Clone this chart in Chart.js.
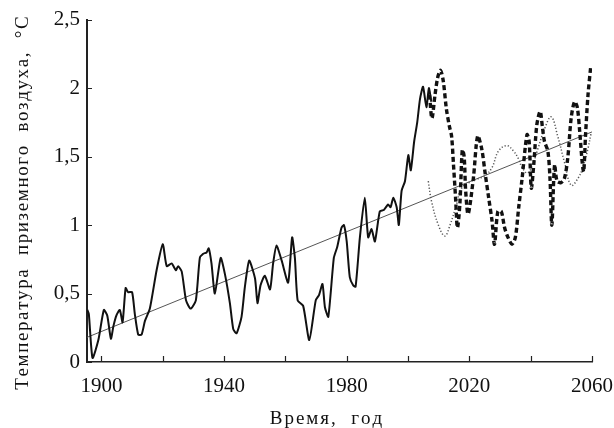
<!DOCTYPE html>
<html>
<head>
  <script src="https://cdn.jsdelivr.net/npm/chart.js"></script>
  <style>body{margin:0}</style>
</head>
<body>
  <canvas id="c" width="614" height="428"></canvas>
  <script>
    // наблюдения (сплошная линия)
    const obsYears = [1895.4, 1895.9, 1897.1, 1899.0, 1900.8, 1901.9, 1903.1, 1903.9, 1904.9, 1906.0,
      1906.9, 1907.9, 1908.7, 1910.0, 1910.9, 1912.0, 1913.1, 1914.2, 1915.8, 1918.0,
      1920.0, 1921.3, 1922.9, 1924.3, 1925.0, 1926.2, 1927.6, 1929.1, 1930.8, 1932.1,
      1933.2, 1934.3, 1935.0, 1935.9, 1937.0, 1938.9, 1940.3, 1941.9, 1943.0, 1944.1,
      1945.7, 1946.8, 1948.2, 1950.1, 1950.9, 1951.9, 1953.3, 1955.0, 1956.0, 1957.1,
      1958.8, 1960.9, 1962.2, 1963.1, 1964.0, 1965.8, 1967.8, 1969.9, 1971.0, 1972.1,
      1972.9, 1974.0, 1975.8, 1976.9, 1978.3, 1979.1, 1980.0, 1981.0, 1982.1, 1982.9,
      1984.3, 1985.9, 1987.0, 1988.1, 1989.2, 1990.8, 1992.1, 1993.5, 1994.3, 1995.2,
      1996.3, 1997.0, 1997.9, 1999.0, 2000.1, 2000.9, 2002.0, 2003.0, 2003.9, 2004.9,
      2006.0, 2006.8, 2007.6];
    const obsValues = [0.38, 0.35, 0.03, 0.16, 0.38, 0.34, 0.17, 0.26, 0.34, 0.38,
      0.29, 0.54, 0.51, 0.51, 0.35, 0.20, 0.20, 0.30, 0.39, 0.67,
      0.86, 0.70, 0.72, 0.67, 0.70, 0.66, 0.45, 0.39, 0.45, 0.76,
      0.79, 0.80, 0.83, 0.72, 0.50, 0.76, 0.64, 0.43, 0.24, 0.21,
      0.33, 0.55, 0.74, 0.61, 0.43, 0.56, 0.63, 0.53, 0.72, 0.85,
      0.74, 0.58, 0.91, 0.76, 0.45, 0.41, 0.16, 0.45, 0.49, 0.57,
      0.40, 0.33, 0.76, 0.84, 0.98, 1.00, 0.88, 0.62, 0.56, 0.55,
      0.91, 1.20, 0.91, 0.97, 0.88, 1.10, 1.11, 1.15, 1.13, 1.20,
      1.13, 1.00, 1.25, 1.32, 1.51, 1.40, 1.61, 1.75, 1.92, 2.01,
      1.86, 2.00, 1.90];

    // прогноз (пунктир)
    const fcYears = [2007.0, 2007.8, 2008.8, 2009.7, 2010.6, 2011.5, 2012.5, 2013.5, 2014.2, 2014.8,
      2015.5, 2016.1, 2016.9, 2017.7, 2018.3, 2018.8, 2019.6, 2021.3, 2022.7, 2024.0,
      2025.2, 2026.3, 2027.4, 2028.2, 2029.3, 2030.4, 2031.5, 2032.6, 2033.9, 2035.0,
      2036.1, 2037.2, 2038.8, 2039.5, 2040.2, 2041.0, 2042.0, 2043.1, 2043.8, 2044.5,
      2045.6, 2046.3, 2046.9, 2047.8, 2048.6, 2049.9, 2051.0, 2052.1, 2053.2, 2054.3,
      2055.2, 2056.0, 2056.8, 2057.3, 2057.9, 2058.7, 2059.6];
    const fcValues = [1.95, 1.78, 1.95, 2.08, 2.13, 2.05, 1.85, 1.72, 1.65, 1.45,
      1.20, 0.98, 1.15, 1.55, 1.50, 1.25, 1.08, 1.34, 1.65, 1.56,
      1.37, 1.20, 1.03, 0.86, 1.10, 1.10, 0.98, 0.91, 0.86, 0.91,
      1.13, 1.34, 1.66, 1.61, 1.27, 1.44, 1.73, 1.83, 1.72, 1.61,
      1.54, 1.34, 1.00, 1.44, 1.32, 1.31, 1.34, 1.49, 1.78, 1.90,
      1.86, 1.68, 1.46, 1.39, 1.66, 1.95, 2.16];

    // циклическая составляющая (точки)
    const cycYears = [2006.6, 2007.7, 2009.9, 2012.0, 2013.7, 2015.8, 2017.5, 2020.7, 2023.0, 2025.1,
      2027.4, 2029.5, 2032.2, 2034.4, 2036.1, 2037.2, 2039.0, 2040.8, 2042.4, 2044.5,
      2046.7, 2048.8, 2051.0, 2053.2, 2055.4, 2057.0, 2058.7, 2059.7];
    const cycValues = [1.32, 1.17, 1.00, 0.92, 1.00, 1.15, 1.27, 1.32, 1.34, 1.36,
      1.42, 1.54, 1.58, 1.54, 1.48, 1.42, 1.38, 1.45, 1.56, 1.70,
      1.79, 1.65, 1.46, 1.29, 1.34, 1.42, 1.56, 1.67];

    // линейный тренд
    const trendYears = [1895.3, 2060];
    const trendValues = [0.18, 1.68];

    const xTickValues = [1900, 1920, 1940, 1960, 1980, 2000, 2020, 2040, 2060];
    const xTickLabels = ['1900', '', '1940', '', '1980', '', '2020', '', '2060'];
    const yTickValues = [0, 0.5, 1, 1.5, 2, 2.5];
    const yTickLabels = ['0', '0,5', '1', '1,5', '2', '2,5'];

    const X_TITLE = 'Время,  год';
    const Y_TITLE = 'Температура  приземного  воздуха,  °С';

    function toPoints(xs, ys) {
      return xs.map((x, i) => ({ x: x, y: ys[i] }));
    }

    // текст с разрядкой, по центру точки (x, y)
    function spacedText(ctx, text, x, y, gap) {
      const chars = Array.from(text);
      const widths = chars.map(ch => ctx.measureText(ch).width);
      const total = widths.reduce((a, b) => a + b, 0) + gap * (chars.length - 1);
      let cx = x - total / 2;
      ctx.textAlign = 'left';
      chars.forEach((ch, i) => {
        ctx.fillText(ch, cx, y);
        cx += widths[i] + gap;
      });
    }

    // короткие внутренние засечки и подписи осей
    const axisDecor = {
      id: 'axisDecor',
      afterDraw(chart) {
        const ctx = chart.ctx;
        const xs = chart.scales.x, ys = chart.scales.y;
        ctx.save();
        ctx.strokeStyle = '#222';
        ctx.lineWidth = 1.2;
        ctx.beginPath();
        xTickValues.forEach(v => {
          const px = Math.round(xs.getPixelForValue(v)) + 0.5;
          ctx.moveTo(px, ys.bottom);
          ctx.lineTo(px, ys.bottom - 6);
        });
        yTickValues.forEach(v => {
          const py = Math.round(ys.getPixelForValue(v)) + 0.5;
          ctx.moveTo(xs.left, py);
          ctx.lineTo(xs.left + 5, py);
        });
        ctx.stroke();

        ctx.fillStyle = '#111';
        ctx.font = '19px "Liberation Serif"';
        ctx.textBaseline = 'alphabetic';
        spacedText(ctx, X_TITLE, 326, 424, 2);
        ctx.translate(28, 203);
        ctx.rotate(-Math.PI / 2);
        spacedText(ctx, Y_TITLE, 0, 0, 1.6);
        ctx.restore();
      }
    };

    new Chart(document.getElementById('c'), {
      type: 'line',
      data: {
        datasets: [
          {
            label: 'тренд',
            data: toPoints(trendYears, trendValues),
            borderColor: '#555',
            borderWidth: 1,
            pointRadius: 0,
            order: 4
          },
          {
            label: 'цикл',
            data: toPoints(cycYears, cycValues),
            borderColor: '#555',
            borderWidth: 1.5,
            borderDash: [1.2, 2],
            pointRadius: 0,
            tension: 0.4,
            order: 3
          },
          {
            label: 'прогноз',
            data: toPoints(fcYears, fcValues),
            borderColor: '#111',
            borderWidth: 3.4,
            borderDash: [5, 3],
            pointRadius: 0,
            tension: 0.3,
            order: 2
          },
          {
            label: 'наблюдения',
            data: toPoints(obsYears, obsValues),
            borderColor: '#111',
            borderWidth: 2,
            pointRadius: 0,
            tension: 0.2,
            order: 1
          }
        ]
      },
      options: {
        responsive: false,
        animation: false,
        layout: {
          padding: { top: 17, right: 22, left: 0, bottom: 0 }
        },
        plugins: {
          legend: { display: false },
          tooltip: { enabled: false }
        },
        scales: {
          x: {
            type: 'linear',
            min: 1895.3,
            max: 2060,
            afterFit: s => { s.height = 66; s.paddingRight = 0; },
            afterBuildTicks: s => { s.ticks = xTickValues.map(v => ({ value: v })); },
            grid: { display: false, drawTicks: false },
            border: { display: true, color: '#222', width: 1.5 },
            ticks: {
              autoSkip: false,
              maxRotation: 0,
              padding: 12,
              color: '#111',
              font: { family: 'Liberation Serif', size: 21 },
              callback: (v) => xTickLabels[xTickValues.indexOf(v)]
            }
          },
          y: {
            min: 0,
            max: 2.5,
            afterFit: s => { s.width = 87; },
            afterBuildTicks: s => { s.ticks = yTickValues.map(v => ({ value: v })); },
            grid: { display: false, drawTicks: false },
            border: { display: true, color: '#222', width: 2 },
            ticks: {
              padding: 7,
              color: '#111',
              font: { family: 'Liberation Serif', size: 21 },
              callback: (v) => yTickLabels[yTickValues.indexOf(v)]
            }
          }
        }
      },
      plugins: [axisDecor]
    });
  </script>
</body>
</html>
